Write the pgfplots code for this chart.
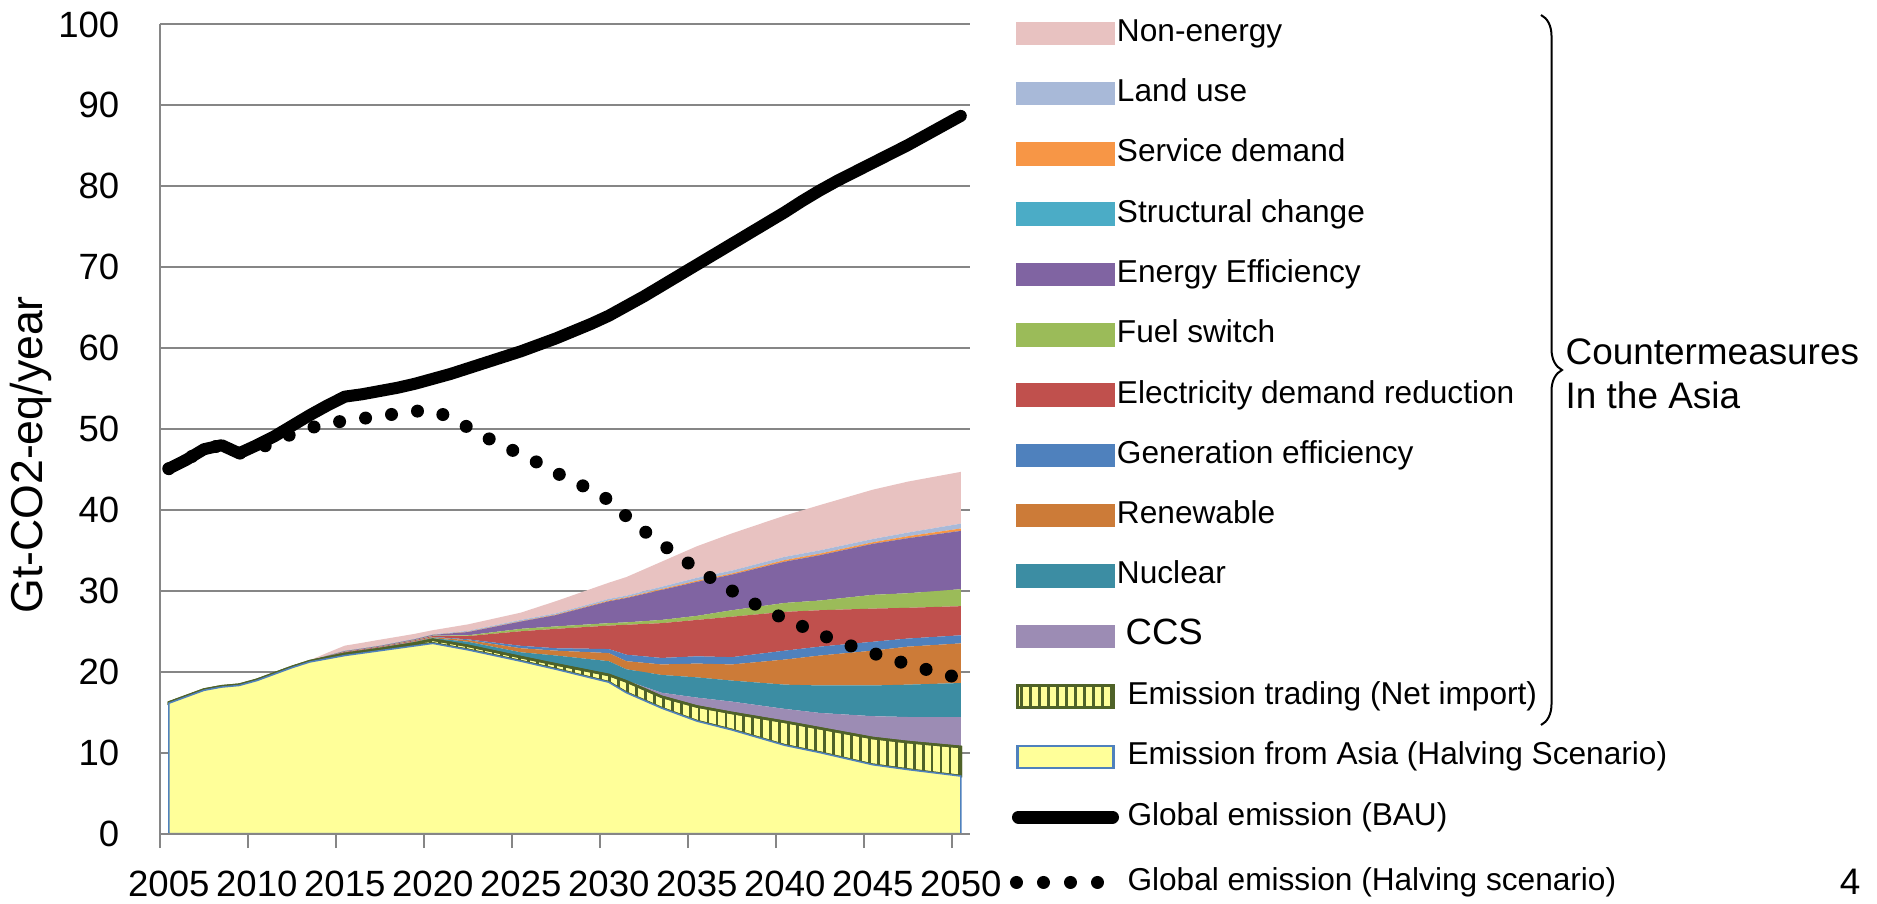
\documentclass[border=0pt]{standalone}
\usepackage{fontspec}
\setmainfont{Liberation Sans}
\usepackage{pgfplots}
\pgfplotsset{compat=1.18}
\usepackage{pgfplotstable}
\usetikzlibrary{patterns.meta,decorations.pathreplacing}

\definecolor{nonenergy}{HTML}{E8C2C1}
\definecolor{landuse}{HTML}{A8B9D8}
\definecolor{service}{HTML}{F79646}
\definecolor{structural}{HTML}{4BACC6}
\definecolor{energyeff}{HTML}{8064A2}
\definecolor{fuel}{HTML}{9BBB59}
\definecolor{elec}{HTML}{C0504D}
\definecolor{gen}{HTML}{4F81BD}
\definecolor{renew}{HTML}{CC7B38}
\definecolor{nuclear}{HTML}{3C8DA3}
\definecolor{ccs}{HTML}{9C8CB4}
\definecolor{asiayellow}{HTML}{FFFF99}
\definecolor{asiablue}{HTML}{4F81BD}
\definecolor{tradeolive}{HTML}{4F6228}
\definecolor{axisgray}{HTML}{868686}

% Stacked contributions (Gt-CO2-eq/year), bottom to top
\pgfplotstableread{
year Y T C N R G E F EE S D L NE
2005 16.1 0.1 0 0 0 0 0 0 0 0 0 0 0
2006 16.9 0.1 0 0 0 0 0 0 0 0 0 0 0
2007 17.7 0.1 0 0 0 0 0 0 0 0 0 0 0
2008 18.1 0.1 0 0 0 0 0 0 0 0 0 0 0
2009 18.3 0.1 0 0 0 0 0 0 0 0 0 0 0
2010 18.9 0.1 0 0 0 0 0 0 0 0 0 0 0
2011 19.7 0.1 0 0 0 0 0 0 0 0 0 0 0
2012 20.5 0.1 0 0 0 0 0 0 0 0 0 0 0
2013 21.2 0.1 0 0 0 0 0 0 0 0 0 0 0.1
2014 21.6 0.15 0 0.05 0.02 0.02 0.05 0.02 0.05 0 0.02 0.05 0.3
2015 22.0 0.2 0 0.1 0.03 0.03 0.08 0.03 0.08 0 0.02 0.05 0.6
2016 22.3 0.2 0 0.1 0.04 0.03 0.08 0.03 0.08 0 0.02 0.05 0.65
2017 22.6 0.2 0 0.12 0.05 0.03 0.08 0.03 0.08 0 0.02 0.05 0.7
2018 22.9 0.25 0 0.15 0.06 0.04 0.08 0.04 0.08 0 0.02 0.05 0.65
2019 23.2 0.3 0 0.18 0.08 0.04 0.09 0.04 0.09 0 0.02 0.05 0.6
2020 23.5 0.45 0 0.2 0.1 0.05 0.1 0.05 0.1 0 0.03 0.05 0.5
2022 22.7 0.5 0 0.5 0.2 0.1 0.4 0.1 0.4 0 0.05 0.1 0.8
2025 21.3 0.5 0 0.6 0.5 0.3 1.8 0.3 0.9 0 0.05 0.15 0.9
2027 20.3 0.6 0 1.1 0.6 0.3 2.4 0.3 1.4 0 0.07 0.15 1.5
2030 18.7 0.9 0.1 1.6 1.0 0.5 2.9 0.3 2.7 0 0.1 0.2 2.0
2031 17.4 1.4 0.1 1.4 1.0 0.8 3.7 0.3 3.0 0 0.1 0.2 2.3
2033 15.5 1.4 0.5 2.2 1.3 0.8 4.3 0.4 3.7 0 0.12 0.28 3.1
2035 13.9 1.8 1.1 2.5 1.7 0.9 4.5 0.5 4.2 0 0.15 0.35 3.9
2037 12.8 2.1 1.4 2.6 2.0 0.9 5.0 0.8 4.4 0 0.15 0.35 4.6
2040 10.9 2.9 1.6 3.0 3.1 1.1 4.8 1.1 5.1 0 0.2 0.4 5.1
2042 10.0 3.0 1.9 3.4 3.7 1.1 4.5 1.2 5.6 0 0.2 0.4 5.6
2045 8.5 3.3 2.7 3.8 4.3 1.1 4.1 1.7 6.3 0 0.2 0.4 6.1
2047 7.9 3.4 3.1 4.0 4.7 1.0 3.8 1.8 6.8 0 0.25 0.45 6.3
2050 7.1 3.6 3.7 4.2 4.9 1.0 3.6 2.1 7.2 0 0.3 0.6 6.4
}\stackdata

% Global emission: BAU and halving scenario
\pgfplotstableread{
year bau half
2005 45.1 45.1
2006 46.2 46.2
2007 47.5 47.5
2008 48.0 48.0
2009 47.0 47.0
2010 48.0 47.5
2011 49.1 48.4
2012 50.4 49.4
2013 51.7 50.1
2014 52.9 50.7
2015 54.0 51.0
2016 54.3 51.3
2017 54.7 51.6
2018 55.1 51.9
2019 55.6 52.2
2020 56.2 52.3
2021 56.8 51.4
2022 57.5 50.2
2023 58.2 49.0
2024 58.9 47.9
2025 59.6 46.9
2026 60.4 45.8
2027 61.2 44.6
2028 62.1 43.5
2029 63.0 42.5
2030 64.0 41.2
2031 65.2 39.2
2032 66.4 37.4
2033 67.7 35.8
2034 69.0 34.2
2035 70.3 32.7
2036 71.6 31.3
2037 72.9 30.0
2038 74.2 28.7
2039 75.5 27.6
2040 76.8 26.5
2041 78.2 25.6
2042 79.5 24.6
2043 80.7 23.8
2044 81.8 23.0
2045 82.9 22.3
2046 84.0 21.6
2047 85.1 20.9
2048 86.3 20.3
2049 87.5 19.7
2050 88.7 19.2
}\linedata

\pgfplotsset{
  commonaxis/.style={
    scale only axis, width=80.96mm, height=80.9mm,
    at={(16.0mm,6.95mm)}, anchor=south west,
    xmin=2004.5, xmax=2050.5, ymin=0, ymax=100,
  },
  legbox/.style={legend image code/.code={%
    \path[draw=none,fill=none] (0mm,-1.5mm) rectangle (9.8mm,1.5mm);
    \fill[draw=none,#1] (0mm,-1.175mm) rectangle (9.8mm,1.175mm);}},
}

\begin{document}
\begin{tikzpicture}
\useasboundingbox (0,0) rectangle (187.7mm,90.3mm);

\begin{axis}[commonaxis,
  stack plots=y,
  axis x line*=bottom, axis y line*=left,
  axis line style={axisgray, line width=0.2mm, -},
  xtick={2005,2010,...,2050},
  xticklabels={2005,2010,2015,2020,2025,2030,2035,2040,2045,2050},
  minor xtick={2004.5,2009.5,2014.5,2019.5,2024.5,2029.5,2034.5,2039.5,2044.5,2049.5},
  ytick={0,10,...,100},
  yticklabels={0,10,20,30,40,50,60,70,80,90,100},
  major tick length=0pt, minor tick length=1.45mm, tick align=outside,
  tick style={axisgray, line width=0.2mm},
  ymajorgrids, major grid style={axisgray, line width=0.2mm},
  tick label style={font=\fontsize{10.4}{12}\selectfont, inner sep=0pt},
  xticklabel style={anchor=north, yshift=-3.7mm},
  yticklabel style={anchor=east, xshift=-4.0mm},
  ylabel={Gt-CO2-eq/year},
  every axis y label/.style={at={(axis description cs:-0.1593,0.468)}, rotate=90, anchor=center, font=\fontsize{12.7}{14}\selectfont},
]
\addplot[fill=asiayellow, draw=asiablue, line width=0.15mm] table[x=year,y=Y]{\stackdata} \closedcycle;
\addplot[fill=asiayellow, draw=tradeolive, line width=0.25mm,
  postaction={pattern={Lines[angle=90,distance=2.55pt,line width=0.8pt]}, pattern color=tradeolive}]
  table[x=year,y=T]{\stackdata} \closedcycle;
\addplot[fill=ccs, draw=none] table[x=year,y=C]{\stackdata} \closedcycle;
\addplot[fill=nuclear, draw=none] table[x=year,y=N]{\stackdata} \closedcycle;
\addplot[fill=renew, draw=none] table[x=year,y=R]{\stackdata} \closedcycle;
\addplot[fill=gen, draw=none] table[x=year,y=G]{\stackdata} \closedcycle;
\addplot[fill=elec, draw=none] table[x=year,y=E]{\stackdata} \closedcycle;
\addplot[fill=fuel, draw=none] table[x=year,y=F]{\stackdata} \closedcycle;
\addplot[fill=energyeff, draw=none] table[x=year,y=EE]{\stackdata} \closedcycle;
\addplot[fill=structural, draw=none] table[x=year,y=S]{\stackdata} \closedcycle;
\addplot[fill=service, draw=none] table[x=year,y=D]{\stackdata} \closedcycle;
\addplot[fill=landuse, draw=none] table[x=year,y=L]{\stackdata} \closedcycle;
\addplot[fill=nonenergy, draw=none] table[x=year,y=NE]{\stackdata} \closedcycle;
\end{axis}

\begin{axis}[commonaxis, hide axis, clip=false,
  legend cell align=left,
  legend style={draw=none, fill=none, inner sep=0pt, outer sep=0pt,
    at={(axis description cs:1.0499,1.0077)}, anchor=north west,
    font=\fontsize{9}{10.8}\selectfont,
    row sep=3.03mm, column sep=-0.2mm,
    nodes={inner sep=0pt, text height=2.3mm, text depth=0.7mm}},
]
\addlegendimage{legbox=nonenergy}\addlegendentry{Non-energy}
\addlegendimage{legbox=landuse}\addlegendentry{Land use}
\addlegendimage{legbox=service}\addlegendentry{Service demand}
\addlegendimage{legbox=structural}\addlegendentry{Structural change}
\addlegendimage{legbox=energyeff}\addlegendentry{Energy Efficiency}
\addlegendimage{legbox=fuel}\addlegendentry{Fuel switch}
\addlegendimage{legbox=elec}\addlegendentry{Electricity demand reduction}
\addlegendimage{legbox=gen}\addlegendentry{Generation efficiency}
\addlegendimage{legbox=renew}\addlegendentry{Renewable}
\addlegendimage{legbox=nuclear}\addlegendentry{Nuclear}
\addlegendimage{legbox=ccs}\addlegendentry{\hspace*{0.87mm}{\fontsize{10.4}{11}\selectfont CCS}}
\addlegendimage{legend image code/.code={%
  \path[draw=none,fill=none] (0mm,-1.5mm) rectangle (9.8mm,1.5mm);
  \filldraw[fill=asiayellow, draw=tradeolive, line width=0.25mm,
    postaction={pattern={Lines[angle=90,distance=2.55pt,line width=0.8pt]}, pattern color=tradeolive}]
    (0.1mm,-1.1mm) rectangle (9.7mm,1.1mm);}}
\addlegendentry{\hspace*{1.05mm}Emission trading (Net import)}
\addlegendimage{legend image code/.code={%
  \path[draw=none,fill=none] (0mm,-1.5mm) rectangle (9.8mm,1.5mm);
  \filldraw[fill=asiayellow, draw=asiablue, line width=0.25mm] (0.1mm,-1.1mm) rectangle (9.7mm,1.1mm);}}
\addlegendentry{\hspace*{1.05mm}Emission from Asia (Halving Scenario)}
\addlegendimage{legend image code/.code={%
  \path[draw=none,fill=none] (0mm,-2.0mm) rectangle (9.8mm,1.5mm);
  \draw[black, line width=1.3mm, line cap=round] (0.2mm,0) -- (9.6mm,0);}}
\addlegendentry{\hspace*{1.05mm}Global emission (BAU)}
\addlegendimage{legend image code/.code={%
  \path[draw=none,fill=none] (0mm,-1.5mm) rectangle (9.8mm,1.5mm);
  \draw[black, line width=1.3mm, line cap=round, dash pattern=on 0pt off 2.7mm] (0mm,0) -- (8.2mm,0);}}
\addlegendentry{\hspace*{1.05mm}Global emission (Halving scenario)}

\addplot[forget plot, black, line width=1.3mm, line cap=round, dash pattern=on 0pt off 2.62mm] table[x=year,y=half]{\linedata};
\addplot[forget plot, black, line width=1.2mm, line cap=round, line join=round] table[x=year,y=bau]{\linedata};
\draw[axisgray, line width=0.2mm] (rel axis cs:0,0) -- (rel axis cs:1,0);
\end{axis}

\draw[line width=0.2mm, decorate, decoration={brace, amplitude=2.1mm}] (154.1mm,88.8mm) -- (154.1mm,17.8mm);
\node[anchor=west, align=left, inner sep=0pt, font=\fontsize{10.5}{12.5}\selectfont] at (156.5mm,52.9mm) {Countermeasures\\In the Asia};
\node[inner sep=0pt, font=\fontsize{10.5}{12}\selectfont] at (185.0mm,2.1mm) {4};
\end{tikzpicture}
\end{document}
